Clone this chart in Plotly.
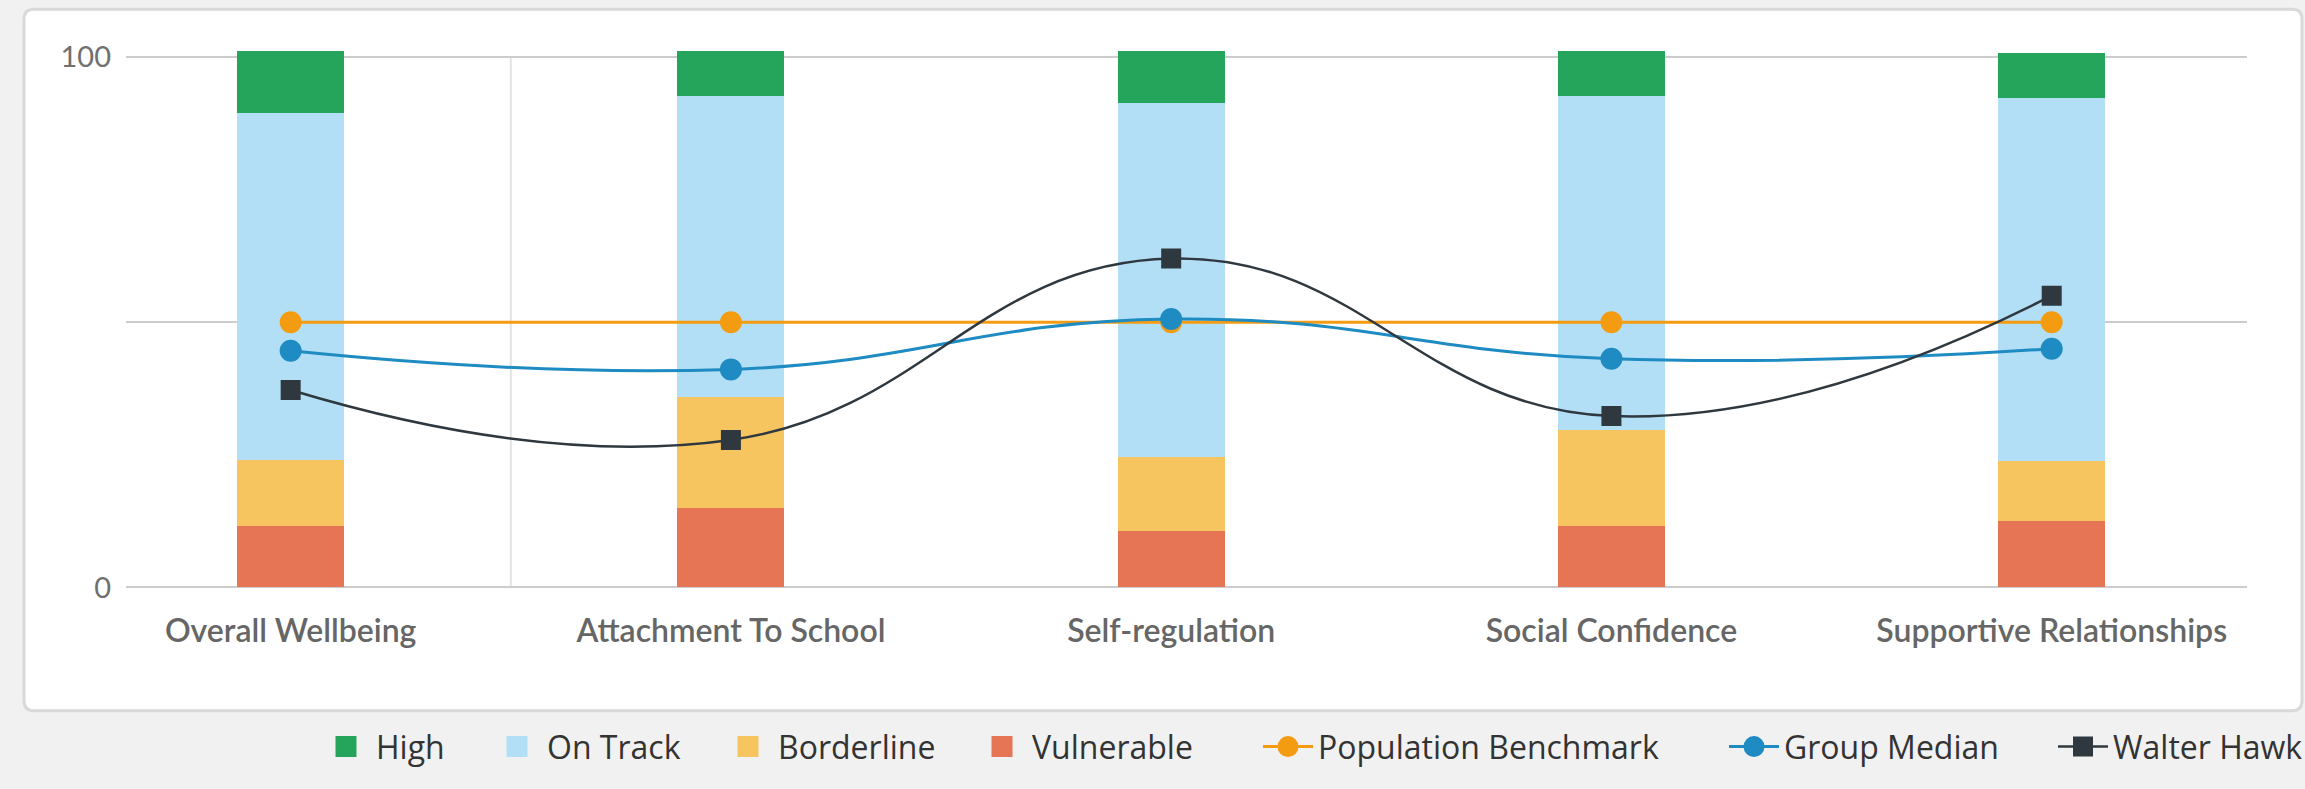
import plotly.graph_objects as go

# ---------------- data ----------------
categories = ["Overall Wellbeing", "Attachment To School", "Self-regulation",
              "Social Confidence", "Supportive Relationships"]
vulnerable = [11.6, 15.0, 10.7, 11.5, 12.6]
borderline = [12.4, 20.8, 13.8, 18.1, 11.3]
on_track = [65.4, 56.8, 66.9, 63.0, 68.3]
high = [11.7, 8.5, 9.7, 8.5, 8.5]
population_benchmark = [50, 50, 50, 50, 50]
group_median = [44.6, 41.1, 50.6, 43.1, 45.0]
walter_hawk = [37.2, 27.8, 62.0, 32.3, 55.0]
y_tick_vals = [0, 50, 100]
y_tick_text = ["0", "", "100"]

# ---------------- geometry (pixels) ----------------
W, H = 2305, 789
ML, MR = 126, 58
Y_MIN, Y_MAX = -0.3, 103.0
PX_PER_UNIT = 5.308
ZERO_PX = 587.5
plot_bottom = ZERO_PX - Y_MIN * PX_PER_UNIT
plot_top = ZERO_PX - Y_MAX * PX_PER_UNIT
MT = plot_top
MB = H - plot_bottom
plot_w = W - ML - MR
plot_h = plot_bottom - plot_top

X_MIN, X_MAX = -0.374, 4.4436
xs = list(range(len(categories)))


def px_to_paper_x(px):
    return (px - ML) / plot_w


def px_to_paper_y(py):
    return (plot_bottom - py) / plot_h


C_HIGH = "#25a55c"
C_TRACK = "#b3dff6"
C_BORDER = "#f7c560"
C_VULN = "#e57555"
C_BENCH = "#f39c12"
C_MEDIAN = "#1e8bc3"
C_WALTER = "#2e383e"

fig = go.Figure()

BAR_W = 0.243
bar_series = [
    ("Vulnerable", vulnerable, C_VULN, "legend4"),
    ("Borderline", borderline, C_BORDER, "legend3"),
    ("On Track", on_track, C_TRACK, "legend2"),
    ("High", high, C_HIGH, "legend"),
]
for name, vals, col, lg in bar_series:
    fig.add_trace(go.Bar(
        x=xs, y=vals, name=name, width=BAR_W,
        marker=dict(color=col, line=dict(width=0)),
        legendgroup=name, showlegend=False, hoverinfo="name+y",
    ))
    # legend key only (larger square swatch than the fixed bar swatch)
    fig.add_trace(go.Scatter(
        x=[None], y=[None], name=name, mode="markers",
        marker=dict(color=col, symbol="square", size=16, line=dict(color=col, width=5)),
        legendgroup=name, legend=lg, showlegend=True, hoverinfo="skip",
    ))

line_series = [
    ("Population Benchmark", population_benchmark, C_BENCH, "circle", 17, 3, "legend5"),
    ("Group Median", group_median, C_MEDIAN, "circle", 17, 3, "legend6"),
    ("Walter Hawk", walter_hawk, C_WALTER, "square", 15, 2.5, "legend7"),
]
for name, vals, col, sym, size, lw, lg in line_series:
    fig.add_trace(go.Scatter(
        x=xs, y=vals, name=name, mode="lines+markers",
        line=dict(color=col, width=lw, shape="spline", smoothing=1.3),
        marker=dict(color=col, symbol=sym, size=size, line=dict(color=col, width=5)),
        legend=lg, showlegend=True, cliponaxis=False,
    ))

# card background (rounded rectangle) in paper coords
def rounded_rect(x0, y0, x1, y1, r):
    X = px_to_paper_x
    Y = px_to_paper_y
    return (f"M {X(x0 + r)},{Y(y0)} L {X(x1 - r)},{Y(y0)} Q {X(x1)},{Y(y0)} {X(x1)},{Y(y0 + r)} "
            f"L {X(x1)},{Y(y1 - r)} Q {X(x1)},{Y(y1)} {X(x1 - r)},{Y(y1)} "
            f"L {X(x0 + r)},{Y(y1)} Q {X(x0)},{Y(y1)} {X(x0)},{Y(y1 - r)} "
            f"L {X(x0)},{Y(y0 + r)} Q {X(x0)},{Y(y0)} {X(x0 + r)},{Y(y0)} Z")

shapes = [
    dict(type="path", xref="paper", yref="paper",
         path=rounded_rect(24, 9, 2302, 711, 10),
         fillcolor="#ffffff", line=dict(color="#d9d9d9", width=3), layer="below"),
    dict(type="line", xref="x", yref="y", x0=0.5, x1=0.5, y0=0, y1=100,
         line=dict(color="#e3e3e3", width=2), layer="below"),
]

layout = dict(
    width=W, height=H,
    margin=dict(l=ML, r=MR, t=MT, b=MB, pad=0, autoexpand=False),
    paper_bgcolor="#f1f1f1",
    plot_bgcolor="rgba(0,0,0,0)",
    barmode="stack",
    shapes=shapes,
    showlegend=True,
    hovermode="closest",
    font=dict(family="Lato", color="#666666"),
    xaxis=dict(
        range=[X_MIN, X_MAX], tickmode="array", tickvals=xs, ticktext=categories,
        showgrid=False, zeroline=False, showline=False, ticks="",
        tickfont=dict(family="Lato", size=32, color="#666666", weight=600),
        ticklabelstandoff=20, fixedrange=True,
    ),
    yaxis=dict(
        range=[Y_MIN, Y_MAX], tickmode="array", tickvals=y_tick_vals, ticktext=y_tick_text,
        showgrid=True, gridcolor="#cccccc", gridwidth=2, zeroline=False, showline=False,
        ticks="", tickfont=dict(family="Lato", size=29, color="#707070"),
        ticklabelstandoff=14, fixedrange=True,
    ),
)

# one native legend per entry so each item can sit where the reference puts it
legend_text_x = {"legend": 376, "legend2": 547, "legend3": 778, "legend4": 1032,
                 "legend5": 1318, "legend6": 1784, "legend7": 2113}
LEGEND_ITEMWIDTH = 50
LEGEND_Y_PX = 747
for key, tx in legend_text_x.items():
    layout[key] = dict(
        x=px_to_paper_x(tx - LEGEND_ITEMWIDTH - 10), xanchor="left",
        y=px_to_paper_y(LEGEND_Y_PX), yanchor="middle",
        orientation="h", bgcolor="rgba(0,0,0,0)", borderwidth=0,
        font=dict(family="Open Sans", size=32, color="#333333"),
        itemwidth=LEGEND_ITEMWIDTH, itemsizing="trace",
        itemclick=False, itemdoubleclick=False, visible=True,
    )

fig.update_layout(**layout)

fig.write_html(
    "out.html",
    config={"displayModeBar": False, "responsive": False},
    post_script="document.body.style.margin='0';document.body.style.overflow='hidden';",
)
